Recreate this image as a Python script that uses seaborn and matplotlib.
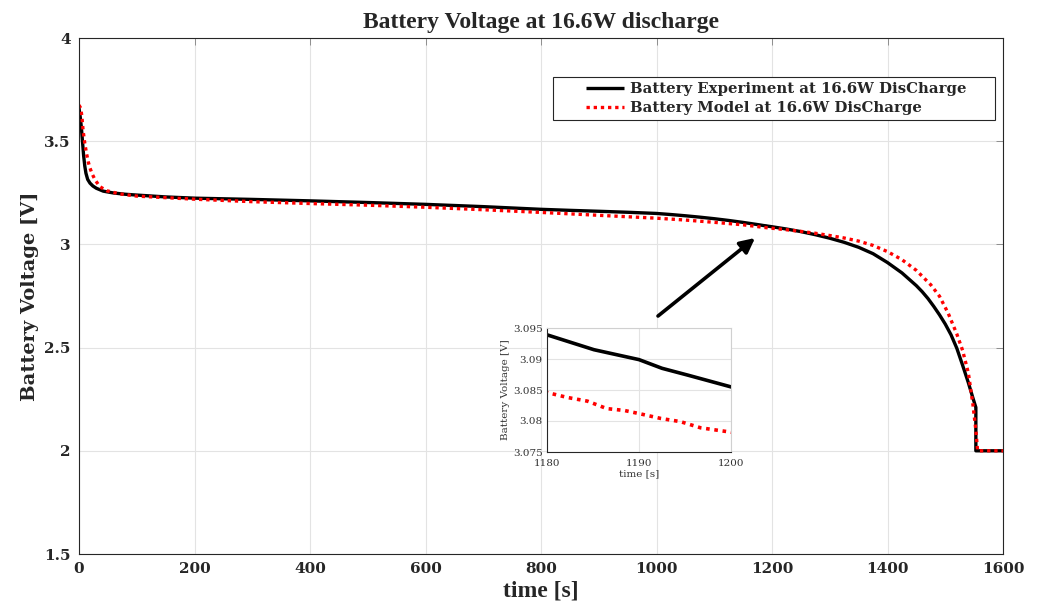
import matplotlib
matplotlib.use("Agg")
import matplotlib.pyplot as plt
from matplotlib.patches import Rectangle
import numpy as np
import pandas as pd
import seaborn as sns

# Measured cell voltage during the 16.6 W discharge
t_exp = [0, 2, 4, 6, 8, 10, 12, 15, 19, 24, 30, 42, 60, 80, 100, 150, 200,
         300, 400, 500, 600, 700, 800, 850, 900, 950, 1000, 1025, 1050, 1075,
         1100, 1125, 1150, 1180, 1185.1, 1190, 1192.5, 1195.3, 1200, 1225,
         1250, 1275, 1300, 1325, 1350, 1375, 1400, 1425, 1450, 1460, 1470,
         1480, 1490, 1500, 1510, 1520, 1530, 1540, 1548, 1553, 1553, 1600]
v_exp = [3.66, 3.62, 3.57, 3.50, 3.43, 3.38, 3.345, 3.315, 3.297, 3.283, 3.272,
         3.258, 3.249, 3.243, 3.239, 3.230, 3.224, 3.218, 3.211, 3.203, 3.194,
         3.183, 3.170, 3.165, 3.1605, 3.1557, 3.150, 3.1447, 3.1387, 3.132,
         3.1245, 3.116, 3.1065, 3.0939, 3.0915, 3.0899, 3.0885, 3.0874, 3.0855,
         3.0745, 3.062, 3.047, 3.030, 3.010, 2.986, 2.955, 2.912, 2.862, 2.800,
         2.771, 2.738, 2.700, 2.659, 2.614, 2.562, 2.497, 2.415, 2.330, 2.255,
         2.210, 2.0, 2.0]

# Simulated cell voltage from the battery model
t_mod = [0, 3, 5, 7, 10, 13, 16, 19, 23, 28, 36, 48, 70, 100, 200, 300, 400,
         500, 600, 700, 800, 900, 1000, 1050, 1100, 1150, 1180, 1182.2, 1184.4,
         1186.5, 1188.4, 1190, 1192.4, 1194.5, 1196.7, 1200, 1225, 1250, 1275,
         1300, 1325, 1350, 1375, 1400, 1425, 1450, 1475, 1490, 1505, 1520,
         1530, 1540, 1548, 1553, 1556, 1600]
v_mod = [3.675, 3.66, 3.62, 3.554, 3.49, 3.441, 3.40, 3.37, 3.34, 3.312, 3.28,
         3.26, 3.245, 3.234, 3.219, 3.207, 3.198, 3.190, 3.180, 3.168, 3.155,
         3.141, 3.127, 3.118, 3.107, 3.095, 3.0846, 3.0838, 3.0832, 3.0820,
         3.0817, 3.0812, 3.0804, 3.0799, 3.0789, 3.0782, 3.071, 3.063, 3.054,
         3.043, 3.031, 3.016, 2.995, 2.965, 2.926, 2.874, 2.804, 2.749, 2.667,
         2.566, 2.487, 2.377, 2.222, 2.100, 2.0, 2.0]

label_exp = "Battery Experiment at 16.6W DisCharge"
label_mod = "Battery Model at 16.6W DisCharge"

x_ticks = [0, 200, 400, 600, 800, 1000, 1200, 1400, 1600]
y_ticks = [1.5, 2, 2.5, 3, 3.5, 4]
y_tick_labels = ["1.5", "2", "2.5", "3", "3.5", "4"]
inset_x_ticks = [1180, 1190, 1200]
inset_y_ticks = [3.075, 3.08, 3.085, 3.09, 3.095]
inset_y_tick_labels = ["3.075", "3.08", "3.085", "3.09", "3.095"]

df_exp = pd.DataFrame({"time": t_exp, "voltage": v_exp})
df_mod = pd.DataFrame({"time": t_mod, "voltage": v_mod})

sns.set_style("white")
plt.rcParams["font.family"] = ["DejaVu Serif"]

W, H = 1037, 604
fig = plt.figure(figsize=(W / 100, H / 100), dpi=100)
ax = fig.add_axes([79 / W, 1 - 554 / H, (1003 - 79) / W, (554 - 38) / H])

spine_col = "#262626"
grid_col = "#e3e3e3"


def draw_curves(a, lw, dot):
    sns.lineplot(data=df_exp, x="time", y="voltage", ax=a, color="black",
                 linewidth=lw, estimator=None, sort=False, label=label_exp,
                 legend=False, solid_capstyle="butt")
    sns.lineplot(data=df_mod, x="time", y="voltage", ax=a, color="#ff0000",
                 linewidth=lw, estimator=None, sort=False, label=label_mod,
                 legend=False, dashes=False)
    line = a.get_lines()[-1]
    line.set_linestyle((0, dot))
    line.set_dash_capstyle("butt")


draw_curves(ax, 2.4, (1.0, 1.15))

ax.set_xlim(0, 1600)
ax.set_ylim(1.5, 4)
ax.set_xticks(x_ticks)
ax.set_yticks(y_ticks)
ax.set_yticklabels(y_tick_labels)
ax.grid(True, color=grid_col, linewidth=0.8)
ax.set_axisbelow(True)
for s in ax.spines.values():
    s.set_color(spine_col)
    s.set_linewidth(0.8)
ax.tick_params(direction="in", length=5, width=0.6, color="#808080",
               top=True, right=True, labelsize=11, pad=6, labelcolor="#262626")
for lab in ax.get_xticklabels() + ax.get_yticklabels():
    lab.set_fontweight("bold")

ax.set_xlabel("time [s]", family="Liberation Serif", fontweight="bold",
              fontsize=17, labelpad=3)
ax.set_ylabel("Battery Voltage [V]", fontweight="bold", fontsize=14,
              labelpad=4)
ax.set_title("Battery Voltage at 16.6W discharge", family="Liberation Serif",
             fontweight="bold", fontsize=17, pad=7)

# Legend box with wide side margins, drawn as its own white panel
box_l, box_r, box_t, box_b = 553, 995, 77, 120
ax.add_patch(Rectangle((box_l / W, 1 - box_b / H), (box_r - box_l) / W,
                       (box_b - box_t) / H, transform=fig.transFigure,
                       facecolor="white", edgecolor="#262626", linewidth=0.8,
                       zorder=4, clip_on=False))
leg = ax.legend(loc="upper left", bbox_to_anchor=(box_l / W, 1 - box_t / H),
                bbox_transform=fig.transFigure, borderaxespad=0,
                frameon=False, handlelength=4.4, handletextpad=0.4,
                borderpad=0.35, labelspacing=0.32,
                prop={"family": "DejaVu Serif", "weight": "bold", "size": 10.7})
leg.set_zorder(5)
# Keep the key lines short, at the right end of their slot
for hl in leg.get_lines():
    xd = np.asarray(hl.get_xdata(), dtype=float)
    yd = np.asarray(hl.get_ydata(), dtype=float)
    x0, x1 = xd[0], xd[-1]
    hl.set_data([x0 + (x1 - x0) * 0.42, x1], [yd[0], yd[-1]])

# Arrow pointing from the zoom panel to the region it enlarges
ax.annotate("", xy=(1170.6, 3.031), xytext=(1002.6, 2.653),
            arrowprops=dict(arrowstyle="-|>", color="black", lw=2.6,
                            mutation_scale=22, shrinkA=0, shrinkB=0))

# Zoomed panel for 1180-1200 s
axi = fig.add_axes([547 / W, 1 - 452 / H, (731 - 547) / W, (452 - 328) / H])
axi.set_facecolor("white")
draw_curves(axi, 2.6, (1.0, 1.3))
axi.set_xlim(1180, 1200)
axi.set_ylim(3.075, 3.095)
axi.set_xticks(inset_x_ticks)
axi.set_yticks(inset_y_ticks)
axi.set_yticklabels(inset_y_tick_labels)
axi.grid(True, color=grid_col, linewidth=0.8)
axi.set_axisbelow(True)
for side in ["top", "right"]:
    axi.spines[side].set_color("#d0d0d0")
    axi.spines[side].set_linewidth(0.8)
for side in ["left", "bottom"]:
    axi.spines[side].set_color(spine_col)
    axi.spines[side].set_linewidth(0.8)
axi.tick_params(axis="both", direction="in", length=2, width=0.5,
                labelsize=7.5, labelcolor="#333333")
axi.tick_params(axis="x", pad=5)
axi.tick_params(axis="y", pad=3)
axi.set_xlabel("time [s]", fontsize=7.5, labelpad=1, color="#333333")
axi.set_ylabel("Battery Voltage [V]", fontsize=7.5, labelpad=2,
               color="#333333")

fig.savefig("out.png", dpi=100, facecolor="white")
